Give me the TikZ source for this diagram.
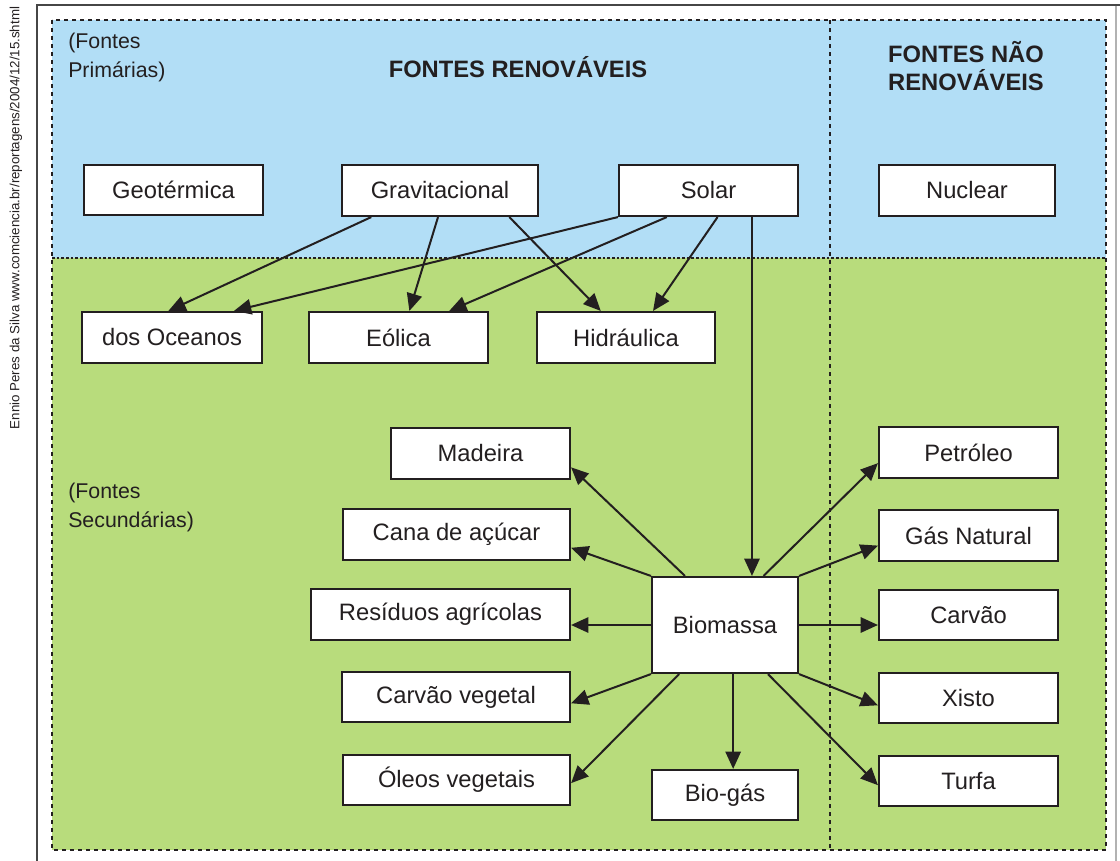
\documentclass[tikz,border=0pt]{standalone}
\usepackage{fontspec}
\setmainfont{Liberation Sans}
\usetikzlibrary{calc,arrows.meta}
\definecolor{skyb}{RGB}{178,222,246}
\definecolor{leaf}{RGB}{184,220,124}
\definecolor{ink}{RGB}{35,31,32}
\definecolor{framec}{RGB}{70,70,70}
\begin{document}
\begin{tikzpicture}[x=0.75pt,y=-0.75pt,
  box/.style={draw=ink, fill=white, line width=1.6pt, inner sep=0pt, text=ink,
    font=\fontsize{17.8}{21}\selectfont},
  sz/.style 2 args={minimum width=#1*0.75pt, minimum height=#2*0.75pt},
  arr/.style={draw=ink, line width=1.5pt, -{Triangle[length=13pt,width=11.5pt]}},
  border/.style={draw=ink, line width=1.5pt, dash pattern=on 3pt off 3pt},
  hdiv/.style={draw=ink, line width=1pt, dash pattern=on 2pt off 1.5pt},
  vdiv/.style={draw=ink, line width=1.5pt, dash pattern=on 3pt off 3pt},
  lbl/.style={text=ink, inner sep=0pt, align=left, font=\fontsize{16}{21.75}\selectfont},
  ttl/.style={text=ink, inner sep=0pt, align=center, font=\bfseries\fontsize{17.8}{21}\selectfont}]
\useasboundingbox (0,0) rectangle (1120,860);
% outer frame
\draw[framec, line width=2pt] (37,862) -- (37,5) -- (1121,5);
\draw[gray!60, line width=1pt] (1116,6) -- (1116,862);
% credit
\node[rotate=90, text=ink, inner sep=0pt, font=\fontsize{10}{12}\selectfont] (credit) at (16,218)
  {Ennio Peres da Silva www.comciencia.br/reportagens/2004/12/15.shtml};
% backgrounds
\fill[skyb] (52,20) rectangle (1106,258);
\fill[leaf] (52,258) rectangle (1106,850);
\draw[hdiv] (52,258) -- (1106,258);
\draw[vdiv] (830,20) -- (830,850);
\draw[border] (52,20) rectangle (1106,850);
% labels
\node[lbl, anchor=north west] (prim) at (68,33) {(Fontes\\Primárias)};
\node[lbl, anchor=north west] (sec) at (68,483) {(Fontes\\Secundárias)};
\node[ttl] (renov) at (518,67) {FONTES RENOVÁVEIS};
\node[ttl] (naorenov) at (966,66) {FONTES NÃO\\RENOVÁVEIS};
% boxes
\node[box, sz={179}{50}] (geo) at (173.5,190) {Geotérmica};
\node[box, sz={196}{51}] (grav) at (440,190.5) {Gravitacional};
\node[box, sz={179}{51}] (solar) at (708.5,190.5) {Solar};
\node[box, sz={176}{51}] (nuclear) at (967,190.5) {Nuclear};
\node[box, sz={180}{51}] (oceanos) at (172,337.5) {dos Oceanos};
\node[box, sz={179}{51}] (eolica) at (398.5,337.5) {Eólica};
\node[box, sz={178}{51}] (hidr) at (626,337.5) {Hidráulica};
\node[box, sz={179}{51}] (madeira) at (480.5,453.5) {Madeira};
\node[box, sz={227}{51}] (cana) at (456.5,534.5) {Cana de açúcar};
\node[box, sz={259}{51}] (residuos) at (440.5,614.5) {Resíduos agrícolas};
\node[box, sz={228}{50}] (carvveg) at (456,697) {Carvão vegetal};
\node[box, sz={227}{50}] (oleos) at (456.5,780) {Óleos vegetais};
\node[box, sz={146}{50}] (biogas) at (725,795) {Bio-gás};
\node[box, sz={146}{96}] (biomassa) at (725,625) {Biomassa};
\node[box, sz={179}{51}] (petroleo) at (968.5,452.5) {Petróleo};
\node[box, sz={179}{51}] (gas) at (968.5,535.5) {Gás Natural};
\node[box, sz={179}{50}] (carvao) at (968.5,615) {Carvão};
\node[box, sz={179}{50}] (xisto) at (968.5,698) {Xisto};
\node[box, sz={179}{50}] (turfa) at (968.5,781) {Turfa};
% primary arrows
\draw[arr] ($(grav.south west)!0.153!(grav.south east)$) -- ($(oceanos.north west)!0.48!(oceanos.north east)$);
\draw[arr] ($(grav.south west)!0.49!(grav.south east)$) -- ($(eolica.north west)!0.56!(eolica.north east)$);
\draw[arr] ($(grav.south west)!0.85!(grav.south east)$) -- ($(hidr.north west)!0.36!(hidr.north east)$);
\draw[arr] (solar.south west) -- ($(oceanos.north west)!0.84!(oceanos.north east)$);
\draw[arr] ($(solar.south west)!0.27!(solar.south east)$) -- ($(eolica.north west)!0.78!(eolica.north east)$);
\draw[arr] ($(solar.south west)!0.55!(solar.south east)$) -- ($(hidr.north west)!0.65!(hidr.north east)$);
\coordinate (sb) at ($(solar.south west)!0.74!(solar.south east)$);
\draw[arr] (sb) -- (sb |- biomassa.north);
% biomass arrows
\draw[arr] ($(biomassa.north west)!0.23!(biomassa.north east)$) -- ($(madeira.north east)!0.76!(madeira.south east)$);
\draw[arr] (biomassa.north west) -- ($(cana.north east)!0.75!(cana.south east)$);
\draw[arr] (biomassa.west) -- (residuos.east |- biomassa.west);
\draw[arr] (biomassa.south west) -- ($(carvveg.north east)!0.62!(carvveg.south east)$);
\draw[arr] ($(biomassa.south west)!0.19!(biomassa.south east)$) -- ($(oleos.north east)!0.56!(oleos.south east)$);
\coordinate (bg) at ($(biomassa.south west)!0.555!(biomassa.south east)$);
\draw[arr] (bg) -- (bg |- biogas.north);
\draw[arr] ($(biomassa.north west)!0.76!(biomassa.north east)$) -- ($(petroleo.north west)!0.7!(petroleo.south west)$);
\draw[arr] (biomassa.north east) -- ($(gas.north west)!0.69!(gas.south west)$);
\draw[arr] (biomassa.east) -- (carvao.west |- biomassa.east);
\draw[arr] (biomassa.south east) -- ($(xisto.north west)!0.64!(xisto.south west)$);
\draw[arr] ($(biomassa.south west)!0.79!(biomassa.south east)$) -- ($(turfa.north west)!0.58!(turfa.south west)$);
\end{tikzpicture}
\end{document}
